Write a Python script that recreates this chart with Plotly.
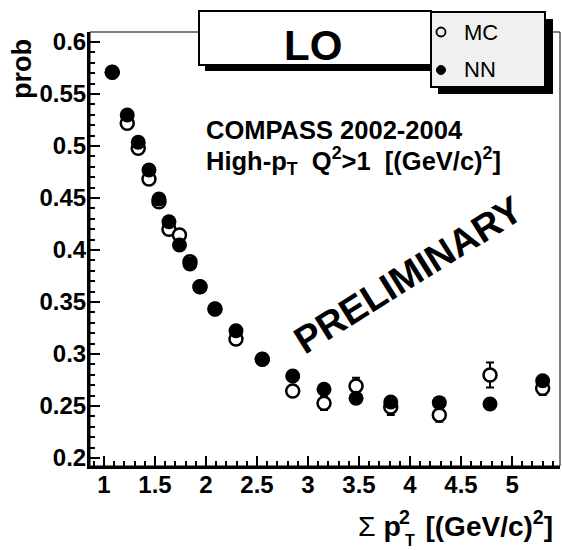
import plotly.graph_objects as go

# ---- data ----
sum_pt2 = [1.081, 1.228, 1.336, 1.441, 1.539, 1.637, 1.740, 1.843, 1.941, 2.088,
           2.294, 2.552, 2.850, 3.157, 3.471, 3.811, 4.287, 4.784, 5.300]
prob_nn = [0.5709, 0.5298, 0.5036, 0.4769, 0.4490, 0.4272, 0.4048, 0.3865, 0.3647, 0.3433,
           0.3224, 0.2949, 0.2788, 0.2661, 0.2574, 0.2538, 0.2532, 0.2519, 0.2743]
prob_mc = [0.5709, 0.5218, 0.4978, 0.4683, 0.4464, 0.4199, 0.4144, 0.3888, 0.3647, 0.3433,
           0.3144, 0.2949, 0.2644, 0.2526, 0.2692, 0.2490, 0.2413, 0.2798, 0.2670]
err_mc = [0.003, 0.003, 0.003, 0.003, 0.003, 0.003, 0.003, 0.003, 0.003, 0.003,
          0.004, 0.004, 0.005, 0.0065, 0.008, 0.0077, 0.0065, 0.012, 0.0065]

x_ticks = [1, 1.5, 2, 2.5, 3, 3.5, 4, 4.5, 5]
x_ticklabels = ["1", "1.5", "2", "2.5", "3", "3.5", "4", "4.5", "5"]
y_ticks = [0.2, 0.25, 0.3, 0.35, 0.4, 0.45, 0.5, 0.55, 0.6]
y_ticklabels = ["0.2", "0.25", "0.3", "0.35", "0.4", "0.45", "0.5", "0.55", "0.6"]

# ---- layout geometry (pixels) ----
W, H = 562, 550
L, R, T, B = 90, 2, 32, 84
PW, PH = W - L - R, H - T - B


def px(x):
    return (x - L) / PW


def py(y):
    return (H - B - y) / PH


FONT = "Liberation Sans, Arial, Helvetica, sans-serif"

fig = go.Figure()

fig.add_trace(go.Scatter(
    x=sum_pt2, y=prob_mc, mode="markers", name="MC",
    marker=dict(symbol="circle", size=13, color="white",
                line=dict(color="black", width=2.5)),
    error_y=dict(type="data", array=err_mc, color="black", thickness=2, width=4),
    showlegend=False,
))
fig.add_trace(go.Scatter(
    x=sum_pt2, y=prob_nn, mode="markers", name="NN",
    marker=dict(symbol="circle", size=15, color="black", line=dict(width=0)),
    showlegend=False,
))

shapes = []
# thin frame (top/right)
shapes.append(dict(type="rect", xref="paper", yref="paper", x0=0, x1=1, y0=0, y1=1,
                   line=dict(color="black", width=1)))
# LO box shadow + box
shapes.append(dict(type="rect", xref="paper", yref="paper",
                   x0=px(205), x1=px(437), y0=py(71), y1=py(17),
                   fillcolor="black", line=dict(width=0)))
shapes.append(dict(type="rect", xref="paper", yref="paper",
                   x0=px(199), x1=px(431), y0=py(65), y1=py(11),
                   fillcolor="white", line=dict(color="black", width=2)))
# legend shadow + box
shapes.append(dict(type="rect", xref="paper", yref="paper",
                   x0=px(438), x1=px(553), y0=py(94), y1=py(19),
                   fillcolor="black", line=dict(width=0)))
shapes.append(dict(type="rect", xref="paper", yref="paper",
                   x0=px(431), x1=px(545), y0=py(87), y1=py(12),
                   fillcolor="#f0f0f0", line=dict(color="black", width=2)))
# legend markers
r = 4.5
shapes.append(dict(type="circle", xref="paper", yref="paper",
                   x0=px(441 - r), x1=px(441 + r), y0=py(32 + r), y1=py(32 - r),
                   fillcolor="rgba(0,0,0,0)", line=dict(color="black", width=1.8)))
shapes.append(dict(type="circle", xref="paper", yref="paper",
                   x0=px(441 - r), x1=px(441 + r), y0=py(70 + r), y1=py(70 - r),
                   fillcolor="black", line=dict(color="black", width=1)))


def ann(text, x, y, size, xanchor="center", yanchor="middle", angle=0):
    return dict(text=text, x=px(x), y=py(y), xref="paper", yref="paper",
                xanchor=xanchor, yanchor=yanchor, textangle=angle, showarrow=False,
                font=dict(size=size, color="black", family=FONT))


annotations = [
    ann("<b>LO</b>", 313, 45, 42),
    ann("MC", 462, 32, 22, xanchor="left"),
    ann("NN", 462, 70, 22, xanchor="left"),
    ann("<b>COMPASS 2002-2004</b>", 204, 130, 25.5, xanchor="left"),
    ann("<b>High-p<sub>T</sub>  Q<sup>2</sup>>1  [(GeV/c)<sup>2</sup>]</b>", 204, 161, 25.5, xanchor="left"),
    ann("<b>PRELIMINARY</b>", 408, 275, 38, angle=-32),
    ann("<b>prob</b>", 22, 37, 27, yanchor="top", angle=-90),
    # x-axis title, built in pieces so that the sub- and superscript stack
    ann("Σ <b>p</b>", 403, 544, 28.5, xanchor="right", yanchor="bottom"),
    ann("<b><sup>2</sup>  [(GeV/c)<sup>2</sup>]</b>", 555, 544, 28, xanchor="right", yanchor="bottom"),
    ann("<b>T</b>", 403, 540, 16, xanchor="left"),
]

fig.update_layout(
    width=W, height=H,
    margin=dict(l=L, r=R, t=T, b=B, pad=0),
    paper_bgcolor="white", plot_bgcolor="white",
    shapes=shapes, annotations=annotations,
    font=dict(family=FONT, color="black"),
)

fig.update_xaxes(
    range=[0.863, 5.47], showgrid=False, zeroline=False,
    showline=True, linecolor="black", linewidth=3,
    ticks="inside", ticklen=10, tickwidth=2, tickcolor="black",
    tickvals=x_ticks, ticktext=x_ticklabels,
    tickfont=dict(size=24, family=FONT, color="black", weight="bold"),
    ticklabelstandoff=-5,
    minor=dict(ticks="inside", ticklen=5, tickwidth=2, tickcolor="black", dtick=0.1, showgrid=False),
)
fig.update_yaxes(
    range=[0.1923, 0.6096], showgrid=False, zeroline=False,
    showline=True, linecolor="black", linewidth=3,
    ticks="inside", ticklen=10, tickwidth=2, tickcolor="black",
    tickvals=y_ticks, ticktext=y_ticklabels,
    tickfont=dict(size=24, family=FONT, color="black", weight="bold"),
    ticklabelstandoff=-4,
    minor=dict(ticks="inside", ticklen=5, tickwidth=2, tickcolor="black", dtick=0.01, showgrid=False),
)

fig.write_html("out.html", config={"displayModeBar": False},
               post_script="document.body.style.margin='0px';")
